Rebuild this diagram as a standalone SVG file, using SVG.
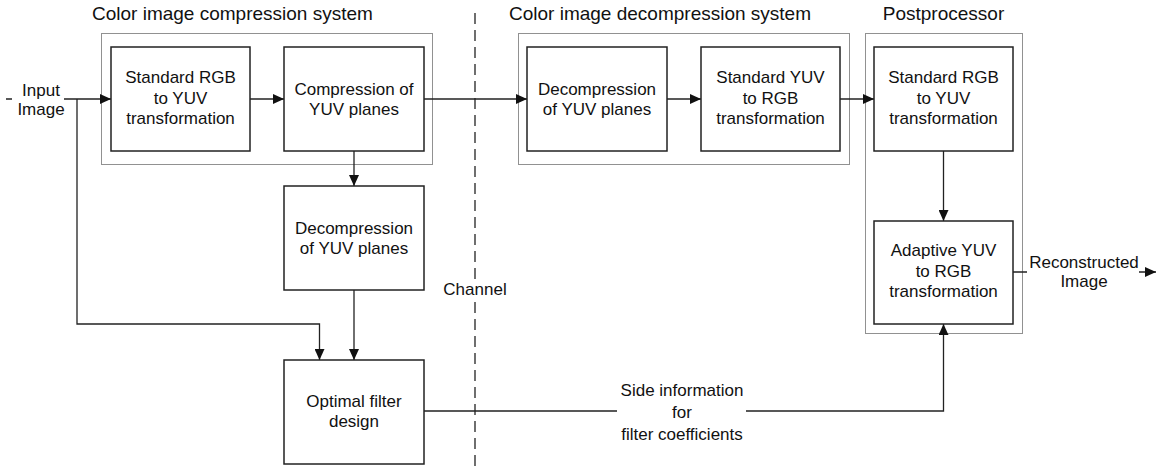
<svg xmlns="http://www.w3.org/2000/svg" width="1169" height="468" viewBox="0 0 1169 468">
  <style>
    text { font-family: "Liberation Sans", Arial, sans-serif; fill: #111; }
    .title { font-size: 19px; }
    .lbl { font-size: 17px; text-anchor: middle; }
    .box { fill: #fff; stroke: #222; stroke-width: 1.5; }
    .group { fill: none; stroke: #222; stroke-width: 1; stroke-dasharray: 1 1; }
    .wire { fill: none; stroke: #222; stroke-width: 1.3; }
    .channel { fill: none; stroke: #222; stroke-width: 1.3; stroke-dasharray: 11 6; }
  </style>
  <defs>
    <marker id="arrow" markerUnits="userSpaceOnUse" markerWidth="11" markerHeight="10" refX="11" refY="5" orient="auto">
      <path d="M0,0 L11,5 L0,10 Z" fill="#111"/>
    </marker>
  </defs>

  <rect width="1169" height="468" fill="#fff"/>

  <!-- subsystem frames and titles (edges on half pixels so dots stay crisp) -->
  <g id="compression-system">
    <rect class="group" x="101.5" y="33.5" width="331" height="131"/>
    <text class="title" x="92" y="19.5">Color image compression system</text>
  </g>
  <g id="decompression-system">
    <rect class="group" x="518.5" y="33.5" width="331" height="131"/>
    <text class="title" x="509" y="19.5">Color image decompression system</text>
  </g>
  <g id="postprocessor">
    <rect class="group" x="865.5" y="33.5" width="157" height="300"/>
    <text class="title" x="943.5" y="19.5" text-anchor="middle">Postprocessor</text>
  </g>

  <!-- channel boundary -->
  <g id="channel">
    <line class="channel" x1="475" y1="13" x2="475" y2="466"/>
    <rect x="441" y="279" width="68" height="21" fill="#fff"/>
    <text class="lbl" x="475" y="295">Channel</text>
  </g>

  <!-- connectors -->
  <g id="connectors">
    <path class="wire" d="M6 99 H12 M64 99 H111" marker-end="url(#arrow)"/>
    <path class="wire" d="M77 99 V324 H319.5 V360" marker-end="url(#arrow)"/>
    <path class="wire" d="M250 99 H284" marker-end="url(#arrow)"/>
    <path class="wire" d="M354 151 V186" marker-end="url(#arrow)"/>
    <path class="wire" d="M354 290 V360" marker-end="url(#arrow)"/>
    <path class="wire" d="M424 99 H527" marker-end="url(#arrow)"/>
    <path class="wire" d="M667 99 H701" marker-end="url(#arrow)"/>
    <path class="wire" d="M840 99 H874" marker-end="url(#arrow)"/>
    <path class="wire" d="M943.5 151 V221" marker-end="url(#arrow)"/>
    <path class="wire" d="M424 411 H617 M746 411 H943.5 V324" marker-end="url(#arrow)"/>
    <path class="wire" d="M1013 272 H1027 M1139 272 H1156" marker-end="url(#arrow)"/>
    <text class="lbl" x="41" y="96">Input</text>
    <text class="lbl" x="41" y="114.5">Image</text>
    <text class="lbl" x="682" y="396">Side information</text>
    <text class="lbl" x="682" y="418">for</text>
    <text class="lbl" x="682" y="439.5">filter coefficients</text>
    <text class="lbl" x="1084" y="268">Reconstructed</text>
    <text class="lbl" x="1084" y="286.5">Image</text>
  </g>

  <!-- processing blocks -->
  <g id="rgb-to-yuv">
    <rect class="box" x="111" y="47" width="139" height="104"/>
    <text class="lbl" x="180.5" y="83">Standard RGB</text>
    <text class="lbl" x="180.5" y="103.5">to YUV</text>
    <text class="lbl" x="180.5" y="124">transformation</text>
  </g>
  <g id="yuv-compression">
    <rect class="box" x="284" y="47" width="140" height="104"/>
    <text class="lbl" x="354" y="94.5">Compression of</text>
    <text class="lbl" x="354" y="114.5">YUV planes</text>
  </g>
  <g id="local-decompression">
    <rect class="box" x="284" y="186" width="140" height="104"/>
    <text class="lbl" x="354" y="233.5">Decompression</text>
    <text class="lbl" x="354" y="254">of YUV planes</text>
  </g>
  <g id="filter-design">
    <rect class="box" x="284" y="360" width="140" height="104"/>
    <text class="lbl" x="354" y="406.5">Optimal filter</text>
    <text class="lbl" x="354" y="427">design</text>
  </g>
  <g id="yuv-decompression">
    <rect class="box" x="527" y="47" width="140" height="104"/>
    <text class="lbl" x="597" y="94.5">Decompression</text>
    <text class="lbl" x="597" y="114.5">of YUV planes</text>
  </g>
  <g id="yuv-to-rgb">
    <rect class="box" x="701" y="47" width="139" height="104"/>
    <text class="lbl" x="770.5" y="83">Standard YUV</text>
    <text class="lbl" x="770.5" y="103.5">to RGB</text>
    <text class="lbl" x="770.5" y="124">transformation</text>
  </g>
  <g id="post-rgb-to-yuv">
    <rect class="box" x="874" y="47" width="139" height="104"/>
    <text class="lbl" x="943.5" y="83">Standard RGB</text>
    <text class="lbl" x="943.5" y="103.5">to YUV</text>
    <text class="lbl" x="943.5" y="124">transformation</text>
  </g>
  <g id="adaptive-yuv-to-rgb">
    <rect class="box" x="874" y="221" width="139" height="103"/>
    <text class="lbl" x="943.5" y="256">Adaptive YUV</text>
    <text class="lbl" x="943.5" y="277">to RGB</text>
    <text class="lbl" x="943.5" y="297">transformation</text>
  </g>
</svg>
